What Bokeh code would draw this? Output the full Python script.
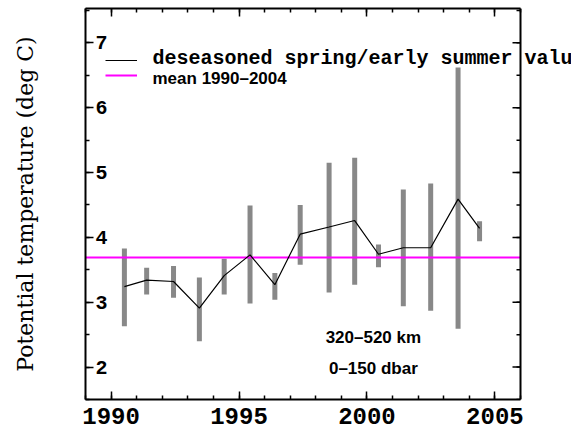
import math
from bokeh.plotting import figure
from bokeh.models import (FixedTicker, LinearAxis, Legend, LegendItem, Label,
                          CustomJSTickFormatter, Span)
from bokeh.core.properties import value
from bokeh.embed import file_html
from bokeh.resources import INLINE

# ---- data ----
years = [1990.52, 1991.39, 1992.44, 1993.45, 1994.42, 1995.43, 1996.40, 1997.39,
         1998.52, 1999.52, 2000.45, 2001.42, 2002.49, 2003.56, 2004.40]
temp_mid = [3.24, 3.34, 3.32, 2.91, 3.41, 3.73, 3.27, 4.05,
            4.16, 4.26, 3.74, 3.84, 3.84, 4.59, 4.14]
temp_hi = [3.83, 3.53, 3.56, 3.38, 3.67, 4.49, 3.45, 4.50,
           5.15, 5.23, 3.89, 4.74, 4.83, 6.62, 4.25]
temp_lo = [2.63, 3.12, 3.07, 2.40, 3.12, 2.98, 3.04, 3.58,
           3.15, 3.27, 3.54, 2.94, 2.87, 2.59, 3.94]
mean_1990_2004 = 3.69

x_major = [1990, 1995, 2000, 2005]
x_minor = list(range(1989, 2007))
y_major = [2, 3, 4, 5, 6, 7]
y_minor = [1.5 + 0.5 * i for i in range(13)]
y_tick_labels = ["2", "3", "4", "5", "6", "7"]

legend_labels = ["deseasoned spring/early summer values", "mean 1990\u20132004"]
region_labels = ["320\u2013520 km", "0\u2013150 dbar"]

# axis box limits
X_START, X_END = 1989, 2006
Y_START, Y_END = 1.5, 7.53

# layout: the box is 435 px wide; the drawing area runs on to the right edge
# of the canvas so that the legend text may run past the box, as in the original
W, H = 571, 436
LEFT, TOP, BOTTOM = 85, 8, 37
BOX_W = 435
VIEW_END = X_START + (X_END - X_START) * (W - LEFT) / BOX_W

p = figure(width=W, height=H, x_range=(X_START, VIEW_END), y_range=(Y_START, Y_END),
           output_backend="svg", toolbar_location=None,
           min_border_left=LEFT, min_border_right=0, min_border_top=TOP,
           min_border_bottom=BOTTOM, background_fill_color="white",
           border_fill_color="white")
p.xgrid.visible = False
p.ygrid.visible = False
p.outline_line_color = None

mono = "Liberation Mono"
blank = CustomJSTickFormatter(code="return '';")

def style_axis(ax, ticker, labels=True):
    ax.ticker = ticker
    ax.axis_line_color = "black"
    ax.axis_line_width = 2
    ax.major_tick_in = 8
    ax.major_tick_out = 0
    ax.minor_tick_in = 4
    ax.minor_tick_out = 0
    ax.major_tick_line_width = 1.5
    ax.minor_tick_line_width = 1.5
    ax.major_tick_line_color = "black"
    ax.minor_tick_line_color = "black"
    if not labels:
        ax.formatter = blank
        ax.major_label_standoff = 0
        ax.major_label_text_font_size = "1px"

xt = FixedTicker(ticks=x_major, minor_ticks=x_minor)
yt = FixedTicker(ticks=y_major, minor_ticks=y_minor)

style_axis(p.xaxis[0], xt)
p.xaxis[0].bounds = (X_START, X_END)
p.xaxis[0].major_label_text_font = mono
p.xaxis[0].major_label_text_font_style = "bold"
p.xaxis[0].major_label_text_font_size = "24px"
p.xaxis[0].major_label_text_color = "black"
p.xaxis[0].major_label_standoff = 8

style_axis(p.yaxis[0], yt, labels=False)
p.yaxis[0].axis_label = "Potential temperature (deg C)"
p.yaxis[0].axis_label_text_font = "DejaVu Serif"
p.yaxis[0].axis_label_text_font_style = "normal"
p.yaxis[0].axis_label_text_font_size = "22px"
p.yaxis[0].axis_label_text_color = "black"
p.yaxis[0].axis_label_standoff = 48

top_ax = LinearAxis(bounds=(X_START, X_END))
style_axis(top_ax, xt, labels=False)
p.add_layout(top_ax, "above")

# right side of the box with inward ticks
p.add_layout(Span(location=X_END, dimension="height", line_color="black",
                  line_width=2))
p.ray(x=[X_END] * len(y_major), y=y_major, length=8, length_units="screen",
      angle=math.pi, line_color="black", line_width=1.5)
p.ray(x=[X_END] * len(y_minor), y=y_minor, length=4, length_units="screen",
      angle=math.pi, line_color="black", line_width=1.5)

# y tick labels drawn inside the box
p.text(x=[X_START] * len(y_major), y=y_major, text=y_tick_labels,
       x_offset=10, text_align="left", text_baseline="middle",
       text_font=value(mono), text_font_style="bold", text_font_size="20px",
       text_color="black")

# error bars
p.segment(x0=years, y0=temp_lo, x1=years, y1=temp_hi,
          line_width=5, line_color="#888888")

# mean line
mean_r = p.line(x=[X_START, X_END], y=[mean_1990_2004] * 2,
                line_color="#ff00ff", line_width=2)

# deseasoned series
line_r = p.line(x=years, y=temp_mid, line_color="black", line_width=1.2)

# legend samples (glyphs only); texts as labels
def sample_legend(renderer, loc):
    return Legend(items=[LegendItem(label=" ", renderers=[renderer])],
                  location=loc, glyph_width=32, glyph_height=20,
                  label_standoff=0, label_width=0, padding=0, margin=0, spacing=0,
                  border_line_color=None, background_fill_alpha=0,
                  label_text_font_size="10px", label_height=20)

p.add_layout(sample_legend(line_r, (20, 329)), "center")
p.add_layout(sample_legend(mean_r, (20, 314)), "center")

p.add_layout(Label(x=X_START, y=6.76, x_offset=67, text=legend_labels[0],
                   text_align="left", text_baseline="middle", text_font=mono,
                   text_font_style="bold", text_font_size="20px",
                   text_color="black"))
p.add_layout(Label(x=X_START, y=6.45, x_offset=67, text=legend_labels[1],
                   text_align="left", text_baseline="middle",
                   text_font="Liberation Sans", text_font_style="bold",
                   text_font_size="17px", text_color="black"))

for txt, yy in zip(region_labels, [2.46, 1.98]):
    p.add_layout(Label(x=2000.25, y=yy, text=txt, text_align="center",
                       text_baseline="middle", text_font="Liberation Sans",
                       text_font_style="bold", text_font_size="17px",
                       text_color="black"))

open("out.html", "w").write(file_html(p, INLINE))
